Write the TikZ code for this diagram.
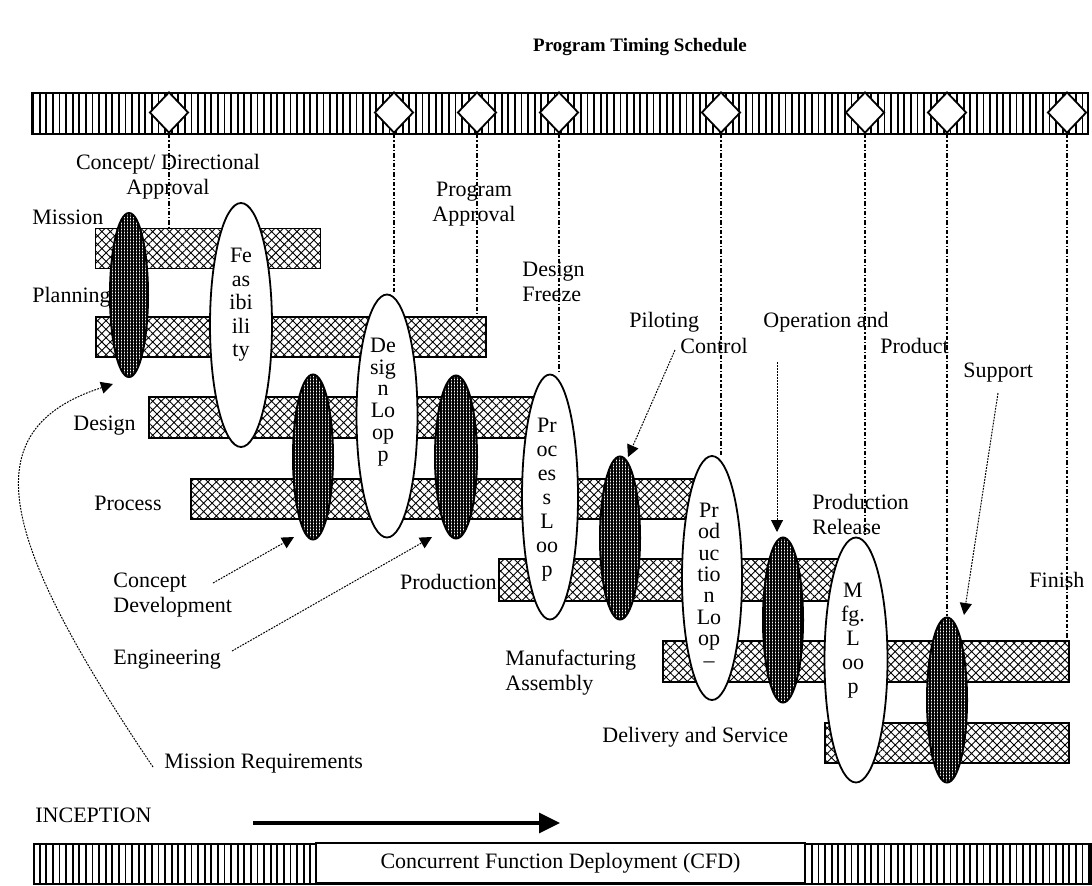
\documentclass[tikz,border=0pt]{standalone}
\usepackage{fontspec}
\setmainfont{Liberation Serif}
\usetikzlibrary{arrows.meta}
\usetikzlibrary{patterns.meta}
\usetikzlibrary{shapes.geometric}

\begin{document}
\begin{tikzpicture}[x=0.5pt,y=-0.5pt,>={Triangle[length=6pt,width=6pt]},
        every node/.append style={font=\fontsize{11}{12.5}\selectfont},
        time bar/.style={draw,line width=0.9pt,inner sep=0,minimum height=20.5pt,anchor=north west,
            pattern={Lines[angle=90,distance=3.3pt,line width=0.9pt]}},
        milestone/.style={diamond,draw,line width=0.9pt,fill=white,inner sep=0,
            minimum width=19.5pt,minimum height=20.5pt},
        work bar/.style={draw,line width=0.9pt,inner sep=0,minimum height=20.5pt,anchor=north west,
            pattern={Hatch[angle=45,distance=3pt,line width=0.45pt]}},
        loop node/.style={ellipse,draw,line width=0.9pt,fill=white,inner sep=0},
        gate node/.style={ellipse,draw,line width=1pt,inner sep=0,minimum width=20pt,
            preaction={fill=white},pattern={Hatch[angle=0,distance=1.5pt,line width=1.05pt]}},
        loop text/.style={align=center,inner sep=0},
        tag/.style={inner sep=0,anchor=west},
        gate line/.style={line width=0.6pt,dash pattern=on 2.2pt off 1pt on 0.6pt off 1pt},
        pointer/.style={->,dash pattern=on 0.9pt off 0.6pt,line width=0.5pt}]

        \useasboundingbox (0,0) rectangle (1092,885);

        \node[font=\bfseries\fontsize{9.5}{11}\selectfont] (title) at (640,47) {Program Timing Schedule};

        \node[time bar,minimum width=528pt] (timeline) at (31,92) {};
        \foreach \x [count=\i] in {169,394,477,559,721,865,947,1067}
            \node[milestone] (m\i) at (\x,112.5) {};

        \node[work bar,minimum width=112.5pt,minimum height=20pt] (mission) at (95,228) {};
        \node[work bar,minimum width=195pt,minimum height=20pt] (planning) at (95,316) {};
        \node[work bar,minimum width=198.5pt] (design) at (148,396) {};
        \node[work bar,minimum width=255pt,minimum height=20pt] (process) at (190,478) {};
        \node[work bar,minimum width=171pt,minimum height=21pt] (production) at (498,558) {};
        \node[work bar,minimum width=203pt] (manuf) at (662,640) {};
        \node[work bar,minimum width=122pt,minimum height=20pt] (delivery) at (824,722) {};

        \node[loop node,minimum width=30.5pt,minimum height=121.5pt] (dloop) at (387,416) {};
        \node[loop node,minimum width=28pt,minimum height=122.5pt] (ploop) at (550,497) {};
        \node[loop node,minimum width=30pt,minimum height=122pt] (prodloop) at (712,578) {};
        \node[loop node,minimum width=31.5pt,minimum height=122.5pt] (mfg) at (856,660) {};
        \node[gate node,minimum width=20pt,minimum height=82.5pt] (d6) at (947,700) {};

        \draw[gate line] (m1.south) -- (m1.south |- mission.north);
        \draw[gate line] (m2.south) -- (m2.south |- dloop.north);
        \draw[gate line] (m3.south) -- (m3.south |- planning.north);
        \draw[gate line] (m4.south) -- (m4.south |- ploop.north);
        \draw[gate line] (m5.south) -- (m5.south |- prodloop.north);
        \draw[gate line] (m6.south) -- (m6.south |- mfg.north);
        \draw[gate line] (m7.south) -- (m7.south |- d6.north);
        \draw[gate line] (m8.south) -- (m8.south |- manuf.north);

        \node[inner sep=0,align=center] (approval lbl) at (168,177) {Concept/ Directional\\Approval};
        \node[tag] (mission lbl) at (32,217) {Mission};
        \node[tag] (planning lbl) at (32,297) {Planning};
        \node[inner sep=0,align=center] (program lbl) at (474,204) {Program\\Approval};
        \node[tag,align=left] (freeze lbl) at (522,282) {Design\\Freeze};
        \node[tag] (piloting lbl) at (629,322) {Piloting};
        \node[tag] (control lbl) at (680,346) {Control};
        \node[tag] (operation lbl) at (763,322) {Operation and};
        \node[tag] (product lbl) at (880,346) {Product};
        \node[tag] (support lbl) at (963,373) {Support};
        \node[tag] (design lbl) at (73,426) {Design};
        \node[tag] (process lbl) at (94,503) {Process};
        \node[tag,align=left] (release lbl) at (812,514) {Production\\Release};
        \node[inner sep=0,anchor=east] (production lbl) at (497,582) {Production};
        \node[tag] (finish lbl) at (1029,580) {Finish};
        \node[tag,align=left] (concept lbl) at (113,595) {Concept\\Development};
        \node[tag] (eng lbl) at (113,660) {Engineering};
        \node[tag,align=left] (assembly lbl) at (505,673) {Manufacturing\\Assembly};
        \node[tag] (delivery lbl) at (602,737) {Delivery and Service};
        \node[tag] (mreq lbl) at (164,764) {Mission Requirements};
        \node[tag] (inception lbl) at (35,815) {INCEPTION};

        \node[gate node,minimum width=19pt,minimum height=82pt] (d1) at (129,295) {};
        \node[loop node,minimum width=31pt,minimum height=122pt] (feas) at (241,325) {};
        \node[gate node,minimum width=20pt,minimum height=82.5pt] (d2) at (313,457) {};
        \node[gate node,minimum width=21pt,minimum height=81.5pt] (d3) at (456,457) {};
        \node[gate node,minimum width=20pt,minimum height=81.5pt] (d4) at (620,538) {};
        \node[gate node,minimum width=20pt,minimum height=82.5pt] (d5) at (783,620) {};

        \node[loop text,font=\fontsize{11}{11.75}\selectfont] (feas text) at (241,305) {Fe\\as\\ibi\\ili\\ty};
        \node[loop text,font=\fontsize{11}{10.9}\selectfont] (dloop text) at (383,402) {De\\sig\\n\\Lo\\op\\p};
        \node[loop text,font=\fontsize{11}{12}\selectfont] (ploop text) at (547,500) {Pr\\oc\\es\\s\\L\\oo\\p};
        \node[loop text,font=\fontsize{11}{10.7}\selectfont] (prodloop text) at (709,585) {Pr\\od\\uc\\tio\\n\\Lo\\op\\--};
        \node[loop text,font=\fontsize{11}{12}\selectfont] (mfg text) at (853,641) {M\\fg.\\L\\oo\\p};

        \coordinate (mr start) at (153,767);
        \coordinate (mr tip) at (113,384);
        \coordinate (cd start) at (213,583);
        \coordinate (cd tip) at (294,537);
        \coordinate (eng start) at (232,651);
        \coordinate (eng tip) at (432,537);
        \coordinate (pc start) at (675,350);
        \coordinate (pc tip) at (628,457);
        \coordinate (op start) at (777,362);
        \coordinate (op tip) at (777,532);
        \coordinate (sp start) at (998,393);
        \coordinate (sp tip) at (964,615);

        \draw[pointer] (mr start) .. controls (0,540) and (-30,430) .. (mr tip);
        \draw[pointer] (cd start) -- (cd tip);
        \draw[pointer] (eng start) -- (eng tip);
        \draw[pointer] (pc start) -- (pc tip);
        \draw[pointer] (op start) -- (op tip);
        \draw[pointer] (sp start) -- (sp tip);

        \coordinate (flow start) at (253,823);
        \coordinate (flow end) at (560,823);
        \draw[line width=1.6pt,-{Triangle[length=10.5pt,width=10pt]}] (flow start) -- (flow end);

        \node[time bar,minimum width=528.5pt,minimum height=20pt] (cfd bar) at (33,843) {};
        \node[draw,line width=0.9pt,fill=white,inner sep=0,minimum width=244.5pt,minimum height=20pt]
            (cfd) at (560.5,863) {Concurrent Function Deployment (CFD)};
    \end{tikzpicture}
\end{document}
